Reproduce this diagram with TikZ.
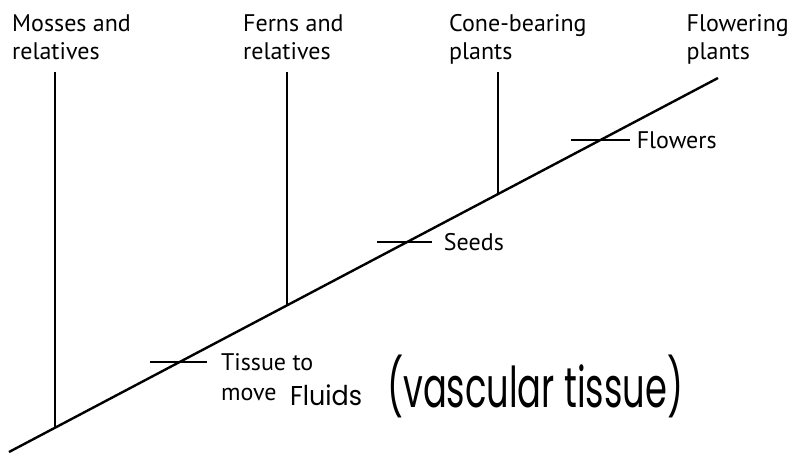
\documentclass[tikz,border=0pt]{standalone}
\usepackage{fontspec}
\setmainfont{PT Sans}
\newfontfamily\handfont{Poppins}
\usetikzlibrary{calc}
\begin{document}
\begin{tikzpicture}[x=1pt,y=-1pt,
  lbl/.style={font=\fontsize{24}{28}\selectfont, align=left, anchor=north west, inner sep=0pt},
  tag/.style={font=\fontsize{24}{30}\selectfont, anchor=west, inner sep=0pt},
  hand/.style={font=\handfont\fontsize{30}{30}\selectfont, inner sep=0pt},
  branch/.style={line width=2pt},
  trunk/.style={line width=2.4pt},
  tickline/.style={line width=2pt}]
\useasboundingbox (0,0) rectangle (790,453);
% trunk
\coordinate (base) at (9,452);
\coordinate (tip) at (718,78);
\draw[trunk] (base) -- (tip);
% top labels
\node[lbl] (mosses) at (12,14.5) {Mosses and\\relatives};
\node[lbl] (ferns) at (243,14.5) {Ferns and\\relatives};
\node[lbl] (cone) at (449,14.5) {Cone-bearing\\plants};
\node[lbl, anchor=north east] (flower) at (789,14.5) {Flowering\\plants};
% branch junctions
\coordinate (jm) at ($(base)!0.0649!(tip)$);
\coordinate (jf) at ($(base)!0.392!(tip)$);
\coordinate (jc) at ($(base)!0.6897!(tip)$);
\coordinate (mtop) at (jm |- 0,72);
\coordinate (ftop) at (jf |- 0,72);
\coordinate (ctop) at (jc |- 0,72);
\draw[branch] (mtop) -- (jm);
\draw[branch] (ftop) -- (jf);
\draw[branch] (ctop) -- (jc);
% ticks
\coordinate (jt) at ($(base)!0.241!(tip)$);
\coordinate (js) at ($(base)!0.561!(tip)$);
\coordinate (jw) at ($(base)!0.833!(tip)$);
\coordinate (tL) at ([xshift=-30pt]jt);
\coordinate (tR) at ([xshift=27pt]jt);
\coordinate (sL) at ([xshift=-30pt]js);
\coordinate (sR) at ([xshift=25pt]js);
\coordinate (wL) at ([xshift=-29pt]jw);
\coordinate (wR) at ([xshift=30pt]jw);
\draw[tickline] (tL) -- (tR);
\draw[tickline] (sL) -- (sR);
\draw[tickline] (wL) -- (wR);
% tick labels
\node[tag] (tissue) at ([xshift=14pt]tR) {Tissue to};
\node[tag, anchor=base west] (move) at ([yshift=-30pt]tissue.base west) {move};
\node[tag] (seeds) at ([xshift=12pt]sR) {Seeds};
\node[tag] (flowers) at ([xshift=7pt]wR) {Flowers};
% handwriting
\node[hand, anchor=south west] (fluids) at ([xshift=13pt,yshift=-6pt]move.base east) {\resizebox*{72pt}{21pt}{Fluids}};
\node[hand, anchor=south west] (vasc) at (387,418) {\resizebox*{296pt}{63pt}{(vascular tissue)}};
\end{tikzpicture}
\end{document}
